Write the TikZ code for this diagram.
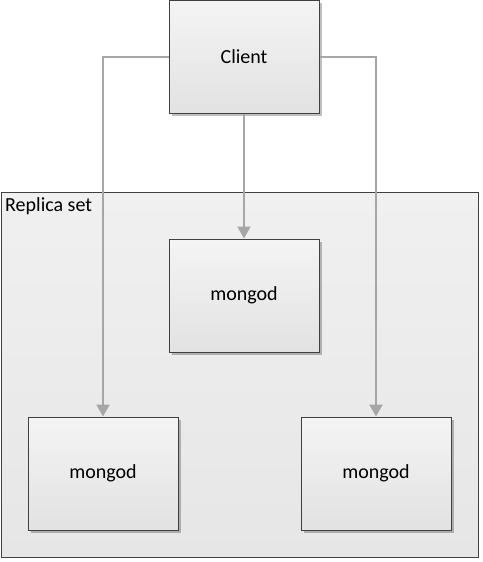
\documentclass[tikz,border=0pt]{standalone}
\usepackage{fontspec}
\setmainfont{Carlito}
\usetikzlibrary{shadows,arrows.meta}
\definecolor{boxtop}{HTML}{F4F4F4}
\definecolor{boxbot}{HTML}{E2E2E2}
\definecolor{settop}{HTML}{F0F0F0}
\definecolor{setbot}{HTML}{E6E6E6}
\definecolor{edge}{HTML}{404040}
\definecolor{conn}{HTML}{A6A6A6}
\tikzset{
  server/.style={rectangle, draw=edge, line width=1pt, top color=boxtop, bottom color=boxbot,
    minimum width=150pt, minimum height=113pt, inner sep=0pt,
    font=\fontsize{20}{24}\selectfont,
    drop shadow={shadow xshift=3pt, shadow yshift=-3pt, opacity=0.25, fill=black}},
  link/.style={draw=conn, line width=2pt, -{Triangle[length=12pt,width=13pt]}},
}
\begin{document}
\begin{tikzpicture}[x=1pt,y=-1pt]
\useasboundingbox (0,0) rectangle (482,562);
\node[draw=edge, line width=1pt, top color=settop, bottom color=setbot, rectangle,
      minimum width=477pt, minimum height=365pt, anchor=north west, inner sep=0pt] (set) at (0.5,192) {};
\node[anchor=north west, inner sep=0pt, font=\fontsize{20}{24}\selectfont] (setlbl) at (5,197) {Replica set};
\node[server] (client) at (244,56.5) {Client};
\node[server] (m0) at (244,295.5) {mongod};
\node[server] (m1) at (103,473.5) {mongod};
\node[server] (m2) at (376,473.5) {mongod};
\draw[link] (client.west) -| (m1.north);
\draw[link] (client.east) -| (m2.north);
\draw[link] (client.south) -- (m0.north);
\end{tikzpicture}
\end{document}
